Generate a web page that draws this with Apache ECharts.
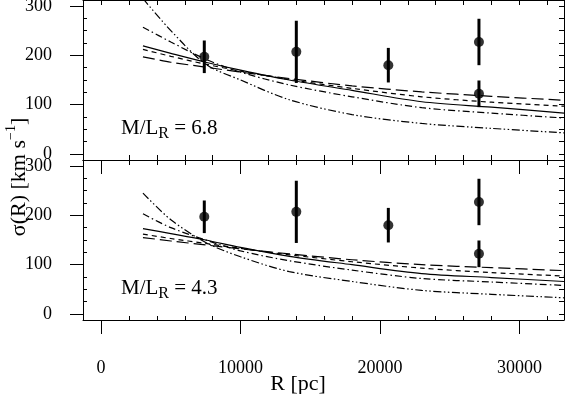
<!DOCTYPE html>
<html>
<head>
<meta charset="utf-8">
<script src="https://cdn.jsdelivr.net/npm/echarts@6/dist/echarts.min.js"></script>
<style>
  html, body { margin: 0; padding: 0; background: #fff; }
  #chart { width: 565px; height: 394px; }
</style>
</head>
<body>
<div id="chart"></div>
<script>
// radii where the model curves are sampled (pc)
var modelR = [3000, 5000, 7500, 10000, 13500, 18000, 23000, 28000, 33200];

// upper panel, M/L_R = 6.8
var topDashDotDot = [315, 250, 182, 150, 110, 80, 62, 52, 43];
var topDashDot    = [257, 227, 192, 166, 140, 116, 94, 83, 73];
var topSolid      = [219, 204, 186, 170, 150, 129, 106, 95, 83];
var topShortDash  = [212, 198, 182, 168, 151, 133, 116, 105, 97];
var topLongDash   = [197, 186, 176, 166, 153, 138, 126, 117, 109];

// lower panel, M/L_R = 4.3
var botDashDotDot = [245, 191, 145, 116, 86, 66, 48, 40, 33];
var botDashDot    = [203, 175, 150, 128, 108, 89, 72, 65, 58];
var botSolid      = [173, 163, 150, 135, 117, 100, 82, 74, 66];
var botShortDash  = [162, 153, 143, 133, 120, 106, 93, 84, 77];
var botLongDash   = [155, 148, 140, 132, 122, 110, 100, 94, 88];

// measured dispersions (same in both panels)
var obsR     = [7400, 14000, 20600, 27100, 27100];
var obsSigma = [197, 207, 180, 227, 122];
var obsErr   = [33, 63, 35, 47, 27];

var xMajor = [0, 10000, 20000, 30000];
var yMajor = [0, 100, 200, 300];

var xMin = -1300, xMax = 33200;
var yMin = -12, yMax = 312;
var serif = '"Liberation Serif", "DejaVu Serif", serif';

var xMinor = [], xAll = [];
for (var v = 0; v <= 32000; v += 2000) {
    xAll.push(v);
    if (v % 10000 !== 0) xMinor.push(v);
}
var yMinor = [], yAll = [];
for (var w = 0; w <= 300; w += 25) {
    yAll.push(w);
    if (w % 100 !== 0) yMinor.push(w);
}

function plain(val) { return String(val); }

function xEdge(grid, pos, ticks, len, inside, line, labels) {
    return {
        type: 'value', gridIndex: grid, position: pos, min: xMin, max: xMax,
        axisLine: { show: line, onZero: false, lineStyle: { color: '#000', width: 1 } },
        axisTick: { show: true, inside: inside, length: len, customValues: ticks, lineStyle: { color: '#000', width: 1 } },
        axisLabel: labels ? {
            show: true, customValues: xMajor, margin: 39, color: '#000',
            fontFamily: serif, fontSize: 18, formatter: plain
        } : { show: false },
        splitLine: { show: false }
    };
}
function yEdge(grid, pos, ticks, len, inside, line, labels) {
    return {
        type: 'value', gridIndex: grid, position: pos, min: yMin, max: yMax,
        axisLine: { show: line, onZero: false, lineStyle: { color: '#000', width: 1 } },
        axisTick: { show: true, inside: inside, length: len, customValues: ticks, lineStyle: { color: '#000', width: 1 } },
        axisLabel: labels ? {
            show: true, customValues: yMajor, margin: 31, color: '#000',
            fontFamily: serif, fontSize: 18, formatter: plain
        } : { show: false },
        splitLine: { show: false }
    };
}

function curve(name, vals, grid, dash) {
    return {
        name: name, type: 'line',
        xAxisIndex: grid === 0 ? 0 : 2, yAxisIndex: grid === 0 ? 0 : 3,
        data: modelR.map(function (r, i) { return [r, vals[i]]; }),
        smooth: 0.3, showSymbol: false, symbol: 'none',
        lineStyle: { color: '#000', width: 1.2, type: dash },
        silent: true, z: 2
    };
}

function errorBars(grid) {
    return {
        type: 'custom',
        xAxisIndex: grid === 0 ? 0 : 2, yAxisIndex: grid === 0 ? 0 : 3,
        data: obsR.map(function (r, i) { return [r, obsSigma[i] - obsErr[i], obsSigma[i] + obsErr[i]]; }),
        encode: { x: 0, y: [1, 2] },
        renderItem: function (params, api) {
            var lo = api.coord([api.value(0), api.value(1)]);
            var hi = api.coord([api.value(0), api.value(2)]);
            return {
                type: 'line',
                shape: { x1: lo[0], y1: lo[1], x2: hi[0], y2: hi[1] },
                style: { stroke: '#000', lineWidth: 3 }
            };
        },
        z: 3
    };
}

function points(grid) {
    return {
        type: 'scatter',
        xAxisIndex: grid === 0 ? 0 : 2, yAxisIndex: grid === 0 ? 0 : 3,
        data: obsR.map(function (r, i) { return [r, obsSigma[i]]; }),
        symbol: 'circle', symbolSize: 10,
        itemStyle: { color: '#000' },
        z: 4
    };
}

var longDash = [12, 5];
var shortDash = [5, 4];
var dashDot = [7, 3, 1.5, 3];
var dashDotDot = [8, 2.5, 1.5, 2.5, 1.5, 2.5];

function mlLabel(y, value) {
    return {
        type: 'text', x: 121, y: y, silent: true,
        style: {
            text: '{a|M/L}{s|R}{a| = ' + value + '}',
            verticalAlign: 'top',
            rich: {
                a: { fontSize: 21, fontFamily: serif, fill: '#000', lineHeight: 21, verticalAlign: 'top' },
                s: { fontSize: 16, fontFamily: serif, fill: '#000', lineHeight: 16, verticalAlign: 'top', padding: [8, 0, 0, 0] }
            }
        }
    };
}

var chart = echarts.init(document.getElementById('chart'));
chart.setOption({
    animation: false,
    backgroundColor: '#fff',
    grid: [
        { left: 83, right: 1, top: 0, height: 160, outerBoundsMode: 'none' },
        { left: 83, right: 1, top: 160, height: 160, outerBoundsMode: 'none' }
    ],
    xAxis: [
        xEdge(0, 'bottom', xMinor, 5, true, true, false),
        xEdge(0, 'top', xAll, 5, true, true, false),
        xEdge(1, 'bottom', xMajor, 14, false, true, true),
        xEdge(1, 'bottom', xMinor, 4, true, false, false),
        xEdge(1, 'top', xMajor, 14, true, true, false),
        xEdge(1, 'top', xMinor, 5, true, false, false)
    ],
    yAxis: [
        yEdge(0, 'left', yMajor, 13, false, true, true),
        yEdge(0, 'left', yMinor, 4, true, false, false),
        yEdge(0, 'right', yAll, 5, true, true, false),
        yEdge(1, 'left', yMajor, 13, false, true, true),
        yEdge(1, 'left', yMinor, 4, true, false, false),
        yEdge(1, 'right', yAll, 5, true, true, false)
    ],
    graphic: [
        mlLabel(118, '6.8'),
        mlLabel(278, '4.3'),
        {
            type: 'text', x: 298, y: 384, silent: true,
            style: { text: 'R [pc]', fontSize: 22, fontFamily: serif, fill: '#000', align: 'center', verticalAlign: 'middle' }
        },
        {
            type: 'text', x: 17, y: 177, rotation: Math.PI / 2, silent: true,
            style: {
                text: '{a|σ(R) [km s}{p|−1}{a|]}',
                align: 'center', verticalAlign: 'middle',
                rich: {
                    a: { fontSize: 22, fontFamily: serif, fill: '#000', lineHeight: 26, verticalAlign: 'bottom' },
                    p: { fontSize: 14, fontFamily: serif, fill: '#000', lineHeight: 14, verticalAlign: 'top' }
                }
            }
        }
    ],
    series: [
        curve('top long dash', topLongDash, 0, longDash),
        curve('top short dash', topShortDash, 0, shortDash),
        curve('top solid', topSolid, 0, 'solid'),
        curve('top dash dot', topDashDot, 0, dashDot),
        curve('top dash dot dot', topDashDotDot, 0, dashDotDot),
        errorBars(0),
        points(0),
        curve('bottom long dash', botLongDash, 1, longDash),
        curve('bottom short dash', botShortDash, 1, shortDash),
        curve('bottom solid', botSolid, 1, 'solid'),
        curve('bottom dash dot', botDashDot, 1, dashDot),
        curve('bottom dash dot dot', botDashDotDot, 1, dashDotDot),
        errorBars(1),
        points(1)
    ]
});
</script>
</body>
</html>
